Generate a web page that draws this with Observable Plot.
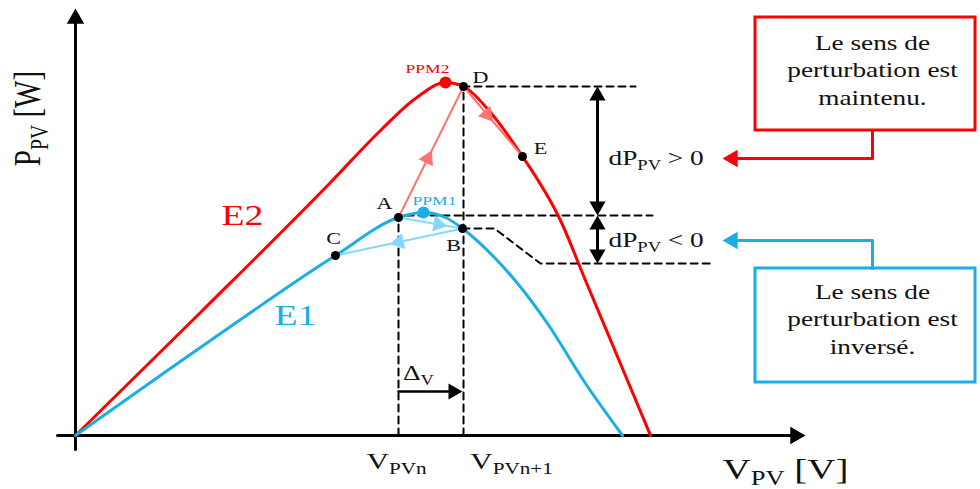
<!DOCTYPE html>
<html><head><meta charset="utf-8">
<script src="https://cdn.jsdelivr.net/npm/d3@7"></script>
<script src="https://cdn.jsdelivr.net/npm/@observablehq/plot@0.6"></script>
<style>body{margin:0;background:#fff} svg{display:block}</style>
</head><body><div id="chart"></div>
<script>
// ---- data (V in arbitrary units, P in arbitrary units) ----
const vE1 = [0,135,260,323,348,370,387,415,438,472,508,547];
const pE1 = [0,95,180,218,223,218,207,182,157,112,55,0];
const vE2 = [0,125,255,305,340,370,388,415,447,485,510,552,575];
const pE2 = [0,123,253,305,337,353,349,323,279,215,155,55,0];
const pointNames = ["A","B","C","D","E"];
const pointV = [323,387,260,388,447];
const pointP = [218,207,180,349,279];
const mppNames = ["PPM1","PPM2"];
const mppV = [348,370];
const mppP = [223,353];
const curveNames = ["E1","E2"];
const axisLabels = ["P_{PV} [W]","V_{PV} [V]"];
const tickLabels = ["V_{PVn}","V_{PVn+1}"];
const deltaLabel = "Δ_{V}";
const dpLabels = ["dP_{PV} > 0","dP_{PV} < 0"];
const boxTexts = [["Le sens de","perturbation est","maintenu."],["Le sens de","perturbation est","inversé."]];

// ---- helpers ----
const RED = "#ff0000", BLUE = "#1aaee6", PINK = "#ff7373", LBLUE = "#84d8fb";
const rows = (vs, ps) => vs.map((v,i)=>({v, p:ps[i]}));
const P = Object.fromEntries(pointNames.map((n,i)=>[n,{v:pointV[i],p:pointP[i]}]));
const ang = (dx,dy) => Math.atan2(dx,dy)*180/Math.PI;
const tipDist = r => 2*Math.sqrt(Math.PI*r*r/(3*Math.sqrt(3)));
function headAtTip(tx,ty,dx,dy,r,color){
  const L = Math.hypot(dx,dy), d = tipDist(r);
  return {v: tx - dx/L*d, p: ty - dy/L*d, a: ang(dx,dy), r, color};
}
function headAlong(a,b,t,r,color){
  return {v: a.v+(b.v-a.v)*t, p: a.p+(b.p-a.p)*t, a: ang(b.v-a.v,b.p-a.p), r, color};
}
const D = P.D, A = P.A, B = P.B, C = P.C, E = P.E;
const ymax = 427, xmax = 730;
const arrowX = 522, dashEnd1 = 560, dashEnd2 = 577, dashEnd3 = 637, lowLevel = 172, aLevel = 220;

const heads = [
  headAtTip(0,ymax,0,1,6.5,"black"),
  headAtTip(xmax,0,1,0,6.5,"black"),
  headAtTip(arrowX,D.p,0,1,6,"black"),
  headAtTip(arrowX,aLevel,0,-1,6,"black"),
  headAtTip(arrowX,aLevel,0,1,6,"black"),
  headAtTip(arrowX,lowLevel,0,-1,6,"black"),
  headAtTip(B.v,44,1,0,6,"black"),
  headAtTip(647,277,-1,0,6.5,RED),
  headAtTip(647,195,-1,0,6.5,BLUE),
  headAlong(A,D,0.45,6,PINK),
  headAlong(D,E,0.4,6,PINK),
  headAlong(A,B,0.62,6,LBLUE),
  headAlong(B,C,0.5,6,LBLUE)
];

const dash = {stroke:"black", strokeWidth:2, strokeDasharray:"7,5"};
const serif = "Liberation Serif, Times New Roman, serif";

const chart = Plot.plot({
  width: 980, height: 489, margin: 0,
  x: {domain:[-75,905], axis:null},
  y: {domain:[-54,435], axis:null},
  r: {type:"identity"},
  style: {background:"white", fontFamily: serif},
  marks: [
    // boxes
    Plot.rect([{x1:680,x2:900,y1:305,y2:418}], {x1:"x1",x2:"x2",y1:"y1",y2:"y2", fill:"white", stroke:RED, strokeWidth:3}),
    Plot.rect([{x1:680,x2:900,y1:53,y2:167}], {x1:"x1",x2:"x2",y1:"y1",y2:"y2", fill:"white", stroke:BLUE, strokeWidth:3}),
    Plot.text([boxTexts[0].join("\n")], {x:797, y:367, text:d=>d, fontSize:21, lineHeight:1.31, fill:"#111", fontFamily:serif}),
    Plot.text([boxTexts[1].join("\n")], {x:797, y:118, text:d=>d, fontSize:21, lineHeight:1.31, fill:"#111", fontFamily:serif}),
    // connectors
    Plot.line([{v:797,p:305},{v:797,p:277},{v:655,p:277}], {x:"v", y:"p", stroke:RED, strokeWidth:3}),
    Plot.line([{v:797,p:167},{v:797,p:195},{v:655,p:195}], {x:"v", y:"p", stroke:BLUE, strokeWidth:3}),
    // dashed guides
    Plot.line([{v:D.v,p:0},{v:D.v,p:D.p},{v:dashEnd1,p:D.p}], {x:"v",y:"p",...dash}),
    Plot.line([{v:A.v,p:0},{v:A.v,p:aLevel},{v:dashEnd2,p:aLevel}], {x:"v",y:"p",...dash}),
    Plot.line([{v:B.v,p:B.p},{v:B.v+32,p:B.p},{v:B.v+78,p:lowLevel},{v:dashEnd3,p:lowLevel}], {x:"v",y:"p",...dash}),
    // axes
    Plot.line([{v:0,p:-14},{v:0,p:ymax-8}], {x:"v",y:"p",stroke:"black",strokeWidth:3}),
    Plot.line([{v:-18,p:0},{v:xmax-8,p:0}], {x:"v",y:"p",stroke:"black",strokeWidth:3}),
    // curves
    Plot.line(rows(vE2,pE2), {x:"v", y:"p", stroke:RED, strokeWidth:3, curve:"monotone-x"}),
    Plot.line(rows(vE1,pE1), {x:"v", y:"p", stroke:BLUE, strokeWidth:3, curve:"monotone-x"}),
    // perturbation paths
    Plot.line([A,D], {x:"v",y:"p",stroke:PINK,strokeWidth:2}),
    Plot.line([D,E], {x:"v",y:"p",stroke:PINK,strokeWidth:2}),
    Plot.line([A,B], {x:"v",y:"p",stroke:LBLUE,strokeWidth:2}),
    Plot.line([B,C], {x:"v",y:"p",stroke:LBLUE,strokeWidth:2}),
    // arrow shafts
    Plot.line([{v:arrowX,p:D.p-8},{v:arrowX,p:aLevel+8}], {x:"v",y:"p",stroke:"black",strokeWidth:3}),
    Plot.line([{v:arrowX,p:aLevel-8},{v:arrowX,p:lowLevel+8}], {x:"v",y:"p",stroke:"black",strokeWidth:3}),
    Plot.line([{v:A.v,p:44},{v:B.v-8,p:44}], {x:"v",y:"p",stroke:"black",strokeWidth:2.5}),
    // arrow heads
    Plot.dot(heads, {x:"v", y:"p", r:"r", rotate:"a", fill:"color", symbol:"triangle", stroke:null}),
    // MPP dots
    Plot.dot(mppNames.map((n,i)=>({n,v:mppV[i],p:mppP[i]})), {x:"v",y:"p",r:6,fill:d=>d.n==="PPM1"?BLUE:RED}),
    // operating points
    Plot.dot(pointNames.map((n,i)=>({n,v:pointV[i],p:pointP[i]})), {x:"v",y:"p",r:4.5,fill:"black"}),
    // labels
    Plot.text([{t:"A",v:309,p:232},{t:"B",v:378,p:190},{t:"C",v:258,p:197},{t:"D",v:405,p:358},{t:"E",v:465,p:287}],
      {x:"v",y:"p",text:"t",fontSize:17,fill:"#111"}),
    Plot.text([{t:mppNames[1],v:352,p:367}], {x:"v",y:"p",text:"t",fontSize:13.5,fill:RED}),
    Plot.text([{t:mppNames[0],v:359,p:235}], {x:"v",y:"p",text:"t",fontSize:13.5,fill:BLUE}),
    Plot.text([{t:curveNames[1],v:167,p:220}], {x:"v",y:"p",text:"t",fontSize:29,fill:RED}),
    Plot.text([{t:curveNames[0],v:220,p:120}], {x:"v",y:"p",text:"t",fontSize:29,fill:BLUE}),
    Plot.text([{t:axisLabels[0],v:-47,p:317}], {x:"v",y:"p",text:"t",fontSize:29,rotate:-90,fill:"#111"}),
    Plot.text([{t:axisLabels[1],v:710,p:-34}], {x:"v",y:"p",text:"t",fontSize:30,fill:"#111"}),
    Plot.text([{t:tickLabels[0],v:321,p:-26}], {x:"v",y:"p",text:"t",fontSize:24,fill:"#111"}),
    Plot.text([{t:tickLabels[1],v:436,p:-26}], {x:"v",y:"p",text:"t",fontSize:24,fill:"#111"}),
    Plot.text([{t:deltaLabel,v:343,p:62}], {x:"v",y:"p",text:"t",fontSize:21,fill:"#111"}),
    Plot.text([{t:dpLabels[0],v:533,p:277}], {x:"v",y:"p",text:"t",fontSize:21,textAnchor:"start",fill:"#111"}),
    Plot.text([{t:dpLabels[1],v:533,p:195}], {x:"v",y:"p",text:"t",fontSize:21,textAnchor:"start",fill:"#111"})
  ]
});

// render "_{...}" as subscripts
const ns = "http://www.w3.org/2000/svg";
chart.querySelectorAll("text, tspan").forEach(node => {
  if (node.children.length) return;
  const s = node.textContent;
  if (!s.includes("_{")) return;
  node.textContent = "";
  const parts = s.split(/(_\{[^}]*\})/).filter(x => x.length);
  let inSub = false;
  parts.forEach(part => {
    const t = document.createElementNS(ns,"tspan");
    if (part.startsWith("_{")) {
      t.textContent = part.slice(2,-1);
      t.setAttribute("font-size","0.68em");
      t.setAttribute("dy","0.3em");
      inSub = true;
    } else {
      t.textContent = part;
      if (inSub) { t.setAttribute("dy","-0.2em"); inSub = false; }
    }
    node.appendChild(t);
  });
});
document.getElementById("chart").appendChild(chart);

// widen glyphs horizontally like the reference (which is stretched ~1.3x)
const SX = 1.3;
chart.querySelectorAll("text").forEach(el => {
  const bb = el.getBBox();
  const t = el.getAttribute("transform") || "";
  const anchor = getComputedStyle(el).textAnchor;
  const ay = bb.y + bb.height/2;
  let ax = bb.x + bb.width/2;
  if (anchor === "start") ax = bb.x;
  const sc = t.includes("rotate") ? `scale(1,${SX})` : `scale(${SX},1)`;
  el.setAttribute("transform", `${t} translate(${ax},${ay}) ${sc} translate(${-ax},${-ay})`);
});
</script>
</body></html>
